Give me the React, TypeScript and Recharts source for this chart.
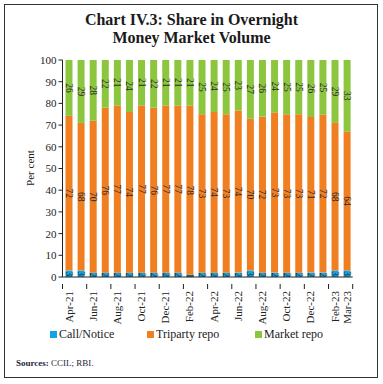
import React from 'react';
import { BarChart, Bar, XAxis, YAxis, LabelList } from 'recharts';

const months = ['Apr-21','May-21','Jun-21','Jul-21','Aug-21','Sep-21','Oct-21','Nov-21','Dec-21','Jan-22','Feb-22','Mar-22','Apr-22','May-22','Jun-22','Jul-22','Aug-22','Sep-22','Oct-22','Nov-22','Dec-22','Jan-23','Feb-23','Mar-23'];
const callNotice = [3,3,2,2,2,2,2,2,2,2,1,2,2,2,2,3,2,2,2,2,2,2,3,3];
const triparty = [72,68,70,76,77,74,77,76,77,77,78,73,74,73,74,70,72,73,73,73,71,72,68,64];
const marketRepo = [26,29,28,22,21,24,21,22,21,21,21,25,24,25,23,27,26,24,25,25,26,25,29,33];
const yTicks = [0,10,20,30,40,50,60,70,80,90,100];
const seriesNames = ['Call/Notice','Triparty repo','Market repo'];
const colors = ['#12A5E3','#F07F22','#8CC63F'];

const data = months.map((m, i) => ({ m, call: callNotice[i], tri: triparty[i], mkt: marketRepo[i] }));

const FONT = '"Liberation Serif", serif';
const PLOT_LEFT = 62.5;
const PLOT_RIGHT = 352.7;
const BW = (PLOT_RIGHT - PLOT_LEFT) / months.length;

const BarLabel = (props: any) => {
  const { x, y, width, height, value } = props;
  const cx = x + width / 2;
  const cy = y + height / 2;
  return (
    <text x={cx} y={cy} transform={`rotate(90 ${cx} ${cy})`} textAnchor="middle" dominantBaseline="central"
      fontSize={9.5} fontFamily={FONT} fill="#2a2a2a">{value}</text>
  );
};

const XTick = (props: any) => {
  const { x, y, payload, index } = props;
  const last = index === months.length - 1;
  if (index % 2 !== 0 && !last) return null;
  const tx = last ? x + BW / 2 : x - BW / 2;
  const ty = y + 6;
  return (
    <g>
      <line x1={tx} y1={y - 1} x2={tx} y2={y + 4} stroke="#222" strokeWidth={1} />
      <text x={x} y={ty} transform={`rotate(-90 ${x} ${ty})`} textAnchor="end" dominantBaseline="central"
        fontSize={11} fontFamily={FONT} fill="#222">{payload.value}</text>
    </g>
  );
};

export default function App() {
  return (
    <div style={{ position: 'absolute', left: 0, top: 0, width: 383, height: 384, background: '#fff', fontFamily: FONT }}>
      <div style={{ position: 'absolute', left: 4, top: 4, width: 372, height: 372, border: '1.5px solid #333' }} />
      <div style={{ position: 'absolute', left: 0, top: 11, width: 383, textAlign: 'center', fontWeight: 'bold', fontSize: 16, lineHeight: '18px', color: '#1a1a1a' }}>
        Chart IV.3: Share in Overnight<br />Money Market Volume
      </div>
      <div style={{ position: 'absolute', left: 0, top: 0 }}>
        <BarChart width={383} height={330} data={data} stackOffset="expand" margin={{ top: 60, right: 383 - PLOT_RIGHT, left: 2.5, bottom: 3 }} barSize={7}>
          <XAxis dataKey="m" interval={0} tick={<XTick />} tickLine={false} axisLine={{ stroke: '#222' }} height={50} />
          <YAxis width={60} domain={[0, 1]} ticks={yTicks.map((t) => t / 100)} tickFormatter={(v: number) => String(Math.round(v * 100))}
            tickSize={4} tickLine={{ stroke: '#222' }} axisLine={{ stroke: '#222' }}
            tick={{ fontSize: 11, fontFamily: FONT, fill: '#222' }} tickMargin={2} />
          <Bar dataKey="call" stackId="a" fill={colors[0]} isAnimationActive={false}>
            <LabelList dataKey="call" content={<BarLabel />} />
          </Bar>
          <Bar dataKey="tri" stackId="a" fill={colors[1]} isAnimationActive={false}>
            <LabelList dataKey="tri" content={<BarLabel />} />
          </Bar>
          <Bar dataKey="mkt" stackId="a" fill={colors[2]} isAnimationActive={false}>
            <LabelList dataKey="mkt" content={<BarLabel />} />
          </Bar>
          <text x={30} y={168} transform="rotate(-90 30 168)" textAnchor="middle" dominantBaseline="central" fontSize={11} fontFamily={FONT} fill="#222">Per cent</text>
        </BarChart>
      </div>
      {[50, 147, 255].map((lx, i) => (
        <div key={i} style={{ position: 'absolute', left: lx, top: 327, display: 'flex', alignItems: 'center', fontSize: 12, color: '#222', whiteSpace: 'nowrap' }}>
          <span style={{ display: 'inline-block', width: 7, height: 7, background: colors[i], marginRight: 2 }} />
          {seriesNames[i]}
        </div>
      ))}
      <div style={{ position: 'absolute', left: 16, top: 358, fontSize: 9, color: '#1f2540', whiteSpace: 'nowrap' }}>
        <b>Sources:</b> CCIL; RBI.
      </div>
    </div>
  );
}
